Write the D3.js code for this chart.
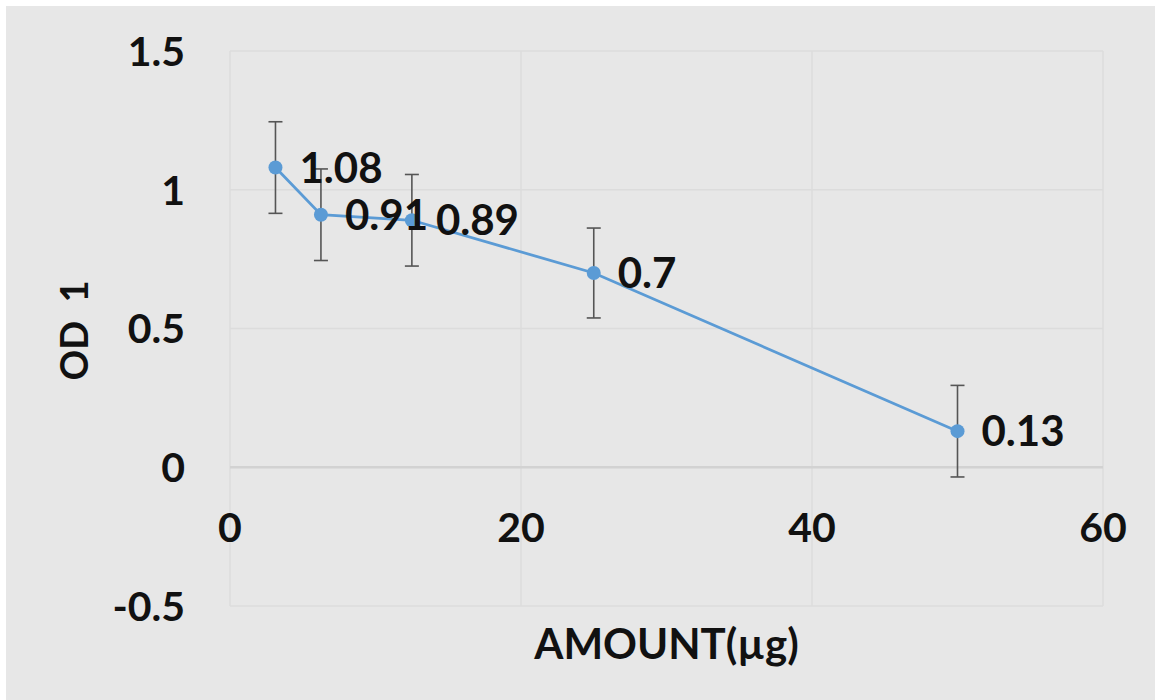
<!DOCTYPE html>
<html>
<head>
<meta charset="utf-8">
<script src="https://cdn.jsdelivr.net/npm/d3@7"></script>
<style>
  body { margin: 0; background: #fff; }
  text { font-family: Lato, "Open Sans", sans-serif; font-weight: bold; fill: #111; }
</style>
</head>
<body>
<div id="chart"></div>
<script>
// data
var amounts = [3.125, 6.25, 12.5, 25, 50];
var odValues = [1.08, 0.91, 0.89, 0.7, 0.13];
var errValues = [0.165, 0.165, 0.165, 0.162, 0.165];
var xTicks = [0, 20, 40, 60];
var yTicks = [-0.5, 0, 0.5, 1, 1.5];

var svgWidth = 1155;
var svgHeight = 700;

var margin = { top: 51, right: 52, bottom: 94, left: 230 };
var width = svgWidth - margin.left - margin.right;
var height = svgHeight - margin.top - margin.bottom;

var svg = d3.select("#chart")
  .append("svg")
  .attr("width", svgWidth)
  .attr("height", svgHeight);

// gray chart background, a thin white strip is left at top and left
svg.append("rect")
  .attr("x", 6).attr("y", 6)
  .attr("width", svgWidth - 6).attr("height", svgHeight - 6)
  .attr("fill", "#e7e7e7");

var chartGroup = svg.append("g")
  .attr("transform", `translate(${margin.left}, ${margin.top})`);

var xScale = d3.scaleLinear().domain([0, 60]).range([0, width]);
var yScale = d3.scaleLinear().domain([-0.5, 1.5]).range([height, 0]);

// grid lines
chartGroup.selectAll(".vgrid")
  .data(xTicks)
  .enter()
  .append("line")
  .attr("x1", d => xScale(d)).attr("x2", d => xScale(d))
  .attr("y1", 0).attr("y2", height)
  .attr("stroke", "#dcdcdc")
  .attr("stroke-width", 1.5);

chartGroup.selectAll(".hgrid")
  .data(yTicks)
  .enter()
  .append("line")
  .attr("x1", 0).attr("x2", width)
  .attr("y1", d => yScale(d)).attr("y2", d => yScale(d))
  .attr("stroke", d => d === 0 ? "#d2d2d2" : "#dcdcdc")
  .attr("stroke-width", d => d === 0 ? 2.5 : 1.5);

// tick labels
chartGroup.selectAll(".ylab")
  .data(yTicks)
  .enter()
  .append("text")
  .attr("x", -45)
  .attr("y", d => yScale(d))
  .attr("dy", "0.36em")
  .attr("text-anchor", "end")
  .attr("font-size", 41)
  .text(d => d);

chartGroup.selectAll(".xlab")
  .data(xTicks)
  .enter()
  .append("text")
  .attr("x", d => xScale(d))
  .attr("y", yScale(0) + 60)
  .attr("dy", "0.36em")
  .attr("text-anchor", "middle")
  .attr("font-size", 41)
  .text(d => d);

var points = amounts.map((a, i) => ({ x: a, y: odValues[i], e: errValues[i] }));

// error bars
var errGroup = chartGroup.selectAll(".err")
  .data(points)
  .enter()
  .append("g")
  .attr("stroke", "#555")
  .attr("stroke-width", 1.6);
errGroup.append("line")
  .attr("x1", d => xScale(d.x)).attr("x2", d => xScale(d.x))
  .attr("y1", d => yScale(d.y + d.e)).attr("y2", d => yScale(d.y - d.e));
errGroup.append("line")
  .attr("x1", d => xScale(d.x) - 7).attr("x2", d => xScale(d.x) + 7)
  .attr("y1", d => yScale(d.y + d.e)).attr("y2", d => yScale(d.y + d.e));
errGroup.append("line")
  .attr("x1", d => xScale(d.x) - 7).attr("x2", d => xScale(d.x) + 7)
  .attr("y1", d => yScale(d.y - d.e)).attr("y2", d => yScale(d.y - d.e));

// line + markers
var line = d3.line().x(d => xScale(d.x)).y(d => yScale(d.y));
chartGroup.append("path")
  .datum(points)
  .attr("d", line)
  .attr("fill", "none")
  .attr("stroke", "#5b9bd5")
  .attr("stroke-width", 2.8);

chartGroup.selectAll("circle")
  .data(points)
  .enter()
  .append("circle")
  .attr("cx", d => xScale(d.x))
  .attr("cy", d => yScale(d.y))
  .attr("r", 7)
  .attr("fill", "#5b9bd5");

// data labels
chartGroup.selectAll(".dlab")
  .data(points)
  .enter()
  .append("text")
  .attr("x", d => xScale(d.x) + 24)
  .attr("y", d => yScale(d.y))
  .attr("dy", "0.36em")
  .attr("font-size", 42)
  .text(d => d.y);

// axis titles
svg.append("text")
  .attr("transform", `translate(88, ${margin.top + yScale(0.5) + 2}) rotate(-90)`)
  .attr("text-anchor", "middle")
  .attr("font-size", 38)
  .style("white-space", "pre")
  .text("OD  1");

svg.append("text")
  .attr("x", margin.left + xScale(30))
  .attr("y", 659)
  .attr("text-anchor", "middle")
  .attr("font-size", 42)
  .text("AMOUNT(µg)");
</script>
</body>
</html>
